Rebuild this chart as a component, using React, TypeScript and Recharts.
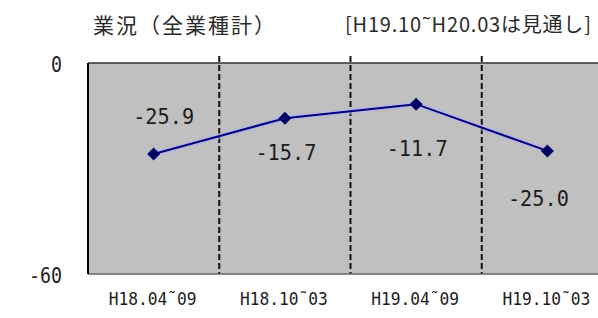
import {
  LineChart,
  Line,
  XAxis,
  YAxis,
  CartesianGrid,
  ReferenceLine,
  LabelList,
} from 'recharts'

// 期間ラベルと業況DI
const periods = ['H18.04˜09', 'H18.10˜03', 'H19.04˜09', 'H19.10˜03']
const values = [-25.9, -15.7, -11.7, -25.0]
const yTicks = [-60, 0]
const dividers = [1, 2, 3]

const data = periods.map((period, i) => ({ slot: i + 0.5, period, value: values[i] }))
const xTicks = data.map((d) => d.slot)

const numFont = '"DejaVu Sans Mono", "Liberation Mono", monospace'
const jpFont = '"Noto Sans CJK JP", "Noto Sans", sans-serif'
const ink = '#1c1c1c'

// label offsets from each point (first label sits above the point)
const labelShift = [
  { dx: 10, dy: -38 },
  { dx: 1, dy: 34 },
  { dx: 1, dy: 44 },
  { dx: -9, dy: 48 },
]

const XTick = ({ x, y, payload }: any) => {
  const label = periods[Math.round(payload.value - 0.5)]
  return (
    <text
      x={x - 1}
      y={y + 25}
      textAnchor="middle"
      dominantBaseline="central"
      fontFamily={numFont}
      fontSize={17}
      fill={ink}
      textLength={88}
      lengthAdjust="spacingAndGlyphs"
    >
      {label}
    </text>
  )
}

const YTick = ({ x, y, payload }: any) => {
  const s = String(payload.value)
  return (
    <text
      x={x - 26}
      y={y + 1}
      textAnchor="end"
      dominantBaseline="central"
      fontFamily={numFont}
      fontSize={22}
      fill={ink}
      textLength={s.length * 11}
      lengthAdjust="spacingAndGlyphs"
    >
      {s}
    </text>
  )
}

const Diamond = ({ cx, cy }: any) => {
  if (cx == null || cy == null) return null
  const r = 6.5
  return (
    <polygon
      points={`${cx},${cy - r} ${cx + r},${cy} ${cx},${cy + r} ${cx - r},${cy}`}
      fill="#000066"
    />
  )
}

const ValueLabel = ({ x, y, value, index }: any) => {
  const s = Number(value).toFixed(1)
  const o = labelShift[index] || { dx: 0, dy: -20 }
  return (
    <text
      x={x + o.dx}
      y={y + o.dy}
      textAnchor="middle"
      dominantBaseline="central"
      fontFamily={numFont}
      fontSize={22}
      fill={ink}
      textLength={61}
      lengthAdjust="spacingAndGlyphs"
    >
      {s}
    </text>
  )
}

export default function App() {
  return (
    <div
      style={{
        position: 'absolute',
        left: 0,
        top: 0,
        width: 598,
        height: 318,
        overflow: 'hidden',
        background: '#fff',
      }}
    >
      <div
        style={{
          position: 'absolute',
          left: 93,
          top: 10,
          fontFamily: jpFont,
          fontSize: 21,
          lineHeight: '28px',
          letterSpacing: 2,
          color: '#2a2a2a',
          whiteSpace: 'nowrap',
        }}
      >
        業況（全業種計）
      </div>
      <div
        style={{
          position: 'absolute',
          left: 345,
          top: 10,
          fontFamily: jpFont,
          fontSize: 20,
          lineHeight: '28px',
          letterSpacing: 0.8,
          color: '#2a2a2a',
          whiteSpace: 'nowrap',
        }}
      >
        [H19.10˜H20.03は見通し]
      </div>
      {/* plot runs past the right edge of the picture, as in the source image */}
      <LineChart
        width={598}
        height={318}
        data={data}
        margin={{ top: 63, right: -15, left: 0, bottom: 0 }}
      >
        <CartesianGrid fill="#c0c0c0" stroke="none" horizontal={false} vertical={false} />
        <XAxis
          dataKey="slot"
          type="number"
          domain={[0, 4]}
          ticks={xTicks}
          height={44}
          tickSize={0}
          tickMargin={0}
          tickLine={false}
          axisLine={{ stroke: '#666', strokeWidth: 1.5 }}
          tick={<XTick />}
        />
        <YAxis
          type="number"
          domain={[-60, 0]}
          ticks={yTicks}
          width={88}
          tickSize={0}
          tickMargin={0}
          tickLine={false}
          axisLine={{ stroke: '#000', strokeWidth: 2 }}
          tick={<YTick />}
        />
        <ReferenceLine y={0} stroke="#333" strokeWidth={1.5} />
        {dividers.map((d) => (
          <ReferenceLine
            key={d}
            segment={[
              { x: d, y: 2 },
              { x: d, y: -60 },
            ]}
            ifOverflow="visible"
            stroke="#111"
            strokeWidth={2}
            strokeDasharray="6 3"
          />
        ))}
        <Line
          dataKey="value"
          stroke="#b4b4e6"
          strokeOpacity={0.6}
          strokeWidth={6}
          dot={false}
          activeDot={false}
          isAnimationActive={false}
        />
        <Line
          dataKey="value"
          stroke="#000080"
          strokeWidth={2}
          dot={<Diamond />}
          activeDot={false}
          isAnimationActive={false}
        >
          <LabelList dataKey="value" content={<ValueLabel />} />
        </Line>
      </LineChart>
    </div>
  )
}
